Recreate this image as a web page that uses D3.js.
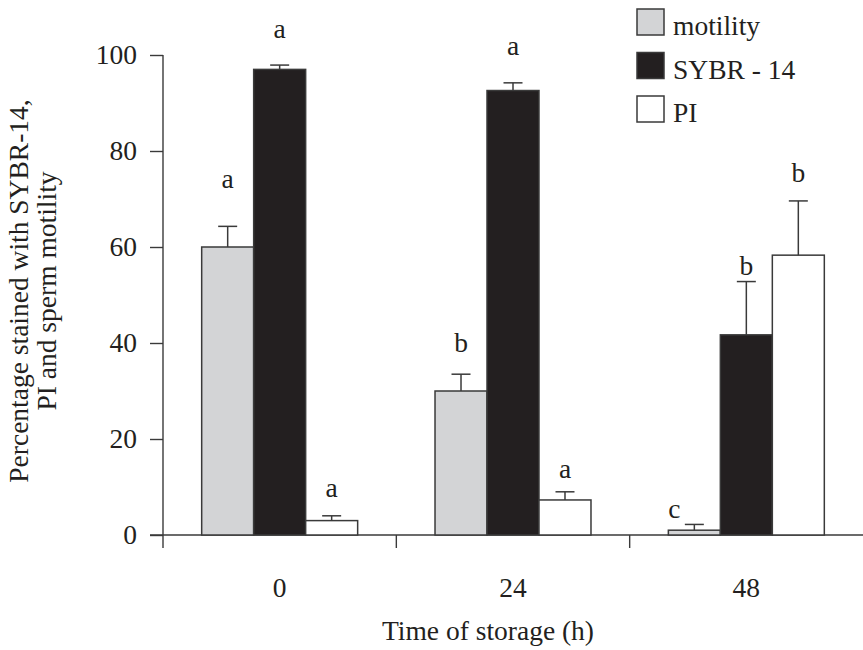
<!DOCTYPE html>
<html><head><meta charset="utf-8">
<script src="https://cdn.jsdelivr.net/npm/d3@7"></script>
<style>body{margin:0;background:#fff}svg{display:block}</style>
</head><body>
<svg id="c" width="863" height="650"></svg>
<script>
const categories = ["0", "24", "48"];
const series = ["motility", "SYBR - 14", "PI"];
const motility = [60, 30, 1.0];
const motilityErr = [4.3, 3.5, 1.2];
const sybr = [97.0, 92.6, 41.7];
const sybrErr = [0.9, 1.6, 11.1];
const pi = [3.0, 7.3, 58.3];
const piErr = [1.0, 1.7, 11.3];
const letters = [["a","a","a"],["b","a","a"],["c","b","b"]];
const letterLevel = [[72.3,103.5,7.9],[38.1,100,11.9],[3.5,54.2,73.5]];
const yTicks = [0, 20, 40, 60, 80, 100];
const colors = ["#d3d4d6", "#231f20", "#ffffff"];

(function () {
const font = "'Liberation Serif', serif";
const fs = 27.5;
const svg = d3.select("#c");
const mLeft = 163, mRight = 863, mTop = 55, mBottom = 535;
const x0 = d3.scaleBand().domain(categories).range([mLeft, mRight]).padding(0);
const x1 = d3.scaleBand().domain(series).range([0, x0.bandwidth()]).paddingInner(0).paddingOuter(0.744);
const y = d3.scaleLinear().domain([0, 100]).range([mBottom, mTop]);
const axisColor = "#3a3a3a";

const vals = [motility, sybr, pi];
const errs = [motilityErr, sybrErr, piErr];
const data = [];
categories.forEach((c, i) => series.forEach((s, j) => data.push({c, s, j, v: vals[j][i], e: errs[j][i], l: letters[i][j], ll: letterLevel[i][j]})));

// y axis
const yAxis = svg.append("g").attr("transform", `translate(${mLeft},0)`)
  .call(d3.axisLeft(y).tickValues(yTicks).tickSize(13).tickPadding(13).tickFormat(d3.format("d")));
yAxis.select(".domain").remove();
yAxis.append("line").attr("x1", 0).attr("x2", 0).attr("y1", y(100)).attr("y2", mBottom + 13);
yAxis.selectAll("line").attr("stroke", axisColor).attr("stroke-width", 1.4);
yAxis.selectAll("text").attr("font-family", font).attr("font-size", fs).attr("fill", "#231f20");

// x axis
const xg = svg.append("g");
xg.append("line").attr("x1", mLeft - 13).attr("x2", mRight).attr("y1", mBottom).attr("y2", mBottom)
  .attr("stroke", axisColor).attr("stroke-width", 1.4);
const bounds = categories.slice(1).map(c => x0(c));
xg.selectAll(".tk").data(bounds).enter().append("line")
  .attr("x1", d => d).attr("x2", d => d).attr("y1", mBottom).attr("y2", mBottom + 13)
  .attr("stroke", axisColor).attr("stroke-width", 1.4);
xg.selectAll(".cl").data(categories).enter().append("text")
  .attr("x", d => x0(d) + x0.bandwidth() / 2).attr("y", mBottom + 62)
  .attr("text-anchor", "middle").attr("font-family", font).attr("font-size", fs).attr("fill", "#231f20")
  .text(d => d);

// bars
const g = svg.append("g");
g.selectAll("rect.bar").data(data).enter().append("rect")
  .attr("x", d => x0(d.c) + x1(d.s)).attr("width", x1.bandwidth())
  .attr("y", d => y(d.v)).attr("height", d => y(0) - y(d.v))
  .attr("fill", d => colors[d.j]).attr("stroke", "#3a3a3a").attr("stroke-width", 1.5);

// error bars
const cap = 9.5;
const cx = d => x0(d.c) + x1(d.s) + x1.bandwidth() / 2;
const eb = g.selectAll("g.eb").data(data).enter().append("g");
eb.append("line").attr("x1", cx).attr("x2", cx)
  .attr("y1", d => y(d.v)).attr("y2", d => y(d.v + d.e)).attr("stroke", axisColor).attr("stroke-width", 1.5);
eb.append("line").attr("x1", d => cx(d) - cap).attr("x2", d => cx(d) + cap)
  .attr("y1", d => y(d.v + d.e)).attr("y2", d => y(d.v + d.e)).attr("stroke", axisColor).attr("stroke-width", 1.5);

// letters
g.selectAll("text.lt").data(data).enter().append("text")
  .attr("x", d => cx(d) + (d.l === "c" ? -20 : 0))
  .attr("y", d => y(d.ll))
  .attr("text-anchor", "middle").attr("font-family", font).attr("font-size", fs).attr("fill", "#231f20")
  .text(d => d.l);

// axis titles
svg.append("text").attr("x", 488).attr("y", 640)
  .attr("text-anchor", "middle").attr("font-family", font).attr("font-size", fs).attr("fill", "#231f20")
  .text("Time of storage (h)");
const yt = svg.append("text").attr("transform", `translate(0,291) rotate(-90)`)
  .attr("text-anchor", "middle").attr("font-family", font).attr("font-size", fs).attr("fill", "#231f20");
yt.append("tspan").attr("x", 0).attr("y", 28).text("Percentage stained with SYBR-14,");
yt.append("tspan").attr("x", 0).attr("y", 56).text("PI and sperm motility");

// legend
const lg = svg.append("g");
series.forEach((s, j) => {
  const row = lg.append("g").attr("transform", `translate(637,${9 + j * 43.5})`);
  row.append("rect").attr("width", 27).attr("height", 26).attr("fill", colors[j]).attr("stroke", "#3a3a3a").attr("stroke-width", 1.5);
  row.append("text").attr("x", 36).attr("y", 26).attr("font-family", font).attr("font-size", fs).attr("fill", "#231f20").text(s);
});
})();
</script>
</body></html>
